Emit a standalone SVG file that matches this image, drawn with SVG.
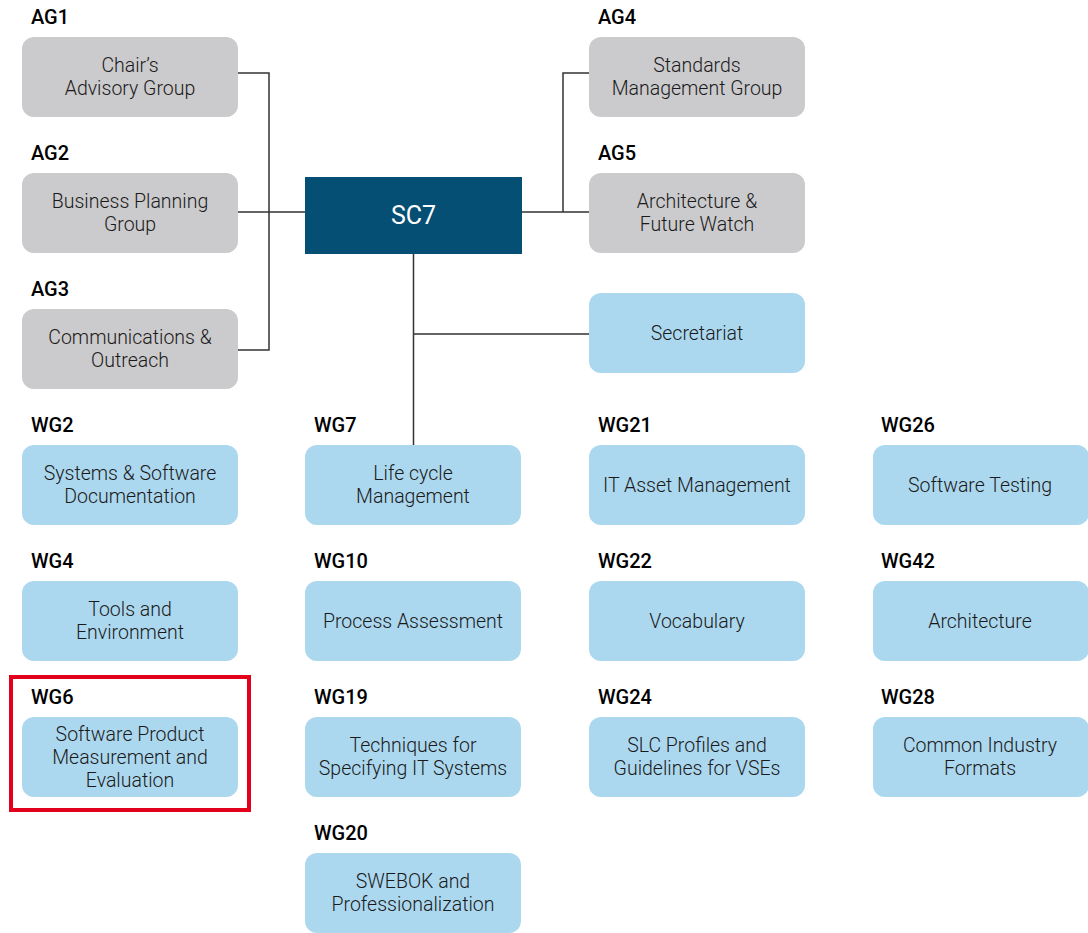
<svg xmlns="http://www.w3.org/2000/svg" width="1088" height="933" viewBox="0 0 1088 933">
<style>
.ag{fill:#cbcacc}
.wg{fill:#acd8ef}
.lbl{font-family:Roboto,"Liberation Sans",sans-serif;font-weight:500;font-size:20px;fill:#000}
.t{font-family:Roboto,"Liberation Sans",sans-serif;font-weight:300;font-size:19.5px;fill:#1a1a1a;text-anchor:middle}
.c{fill:none;stroke:#333;stroke-width:1.5}
</style>
<rect width="1088" height="933" fill="#fff"/>
<g id="connectors">
<path class="c" d="M238 73H269V350H238M238 212H305"/>
<path class="c" d="M522 212H589M563 212V73H589"/>
<path class="c" d="M413.5 254V445M413.5 334H589"/>
</g>
<g id="sc7"><rect x="305" y="177" width="217" height="77" fill="#054e74"/><text x="413.5" y="224" font-family="Roboto,'Liberation Sans',sans-serif" font-size="25" fill="#fff" text-anchor="middle">SC7</text></g>
<g id="ag1"><text class="lbl" x="31" y="24">AG1</text><rect class="ag" x="22" y="37" width="216" height="80" rx="12"/><text class="t" x="130" y="72">Chair’s</text><text class="t" x="130" y="95">Advisory Group</text></g>
<g id="ag2"><text class="lbl" x="31" y="160">AG2</text><rect class="ag" x="22" y="173" width="216" height="80" rx="12"/><text class="t" x="130" y="208">Business Planning</text><text class="t" x="130" y="231">Group</text></g>
<g id="ag3"><text class="lbl" x="31" y="296">AG3</text><rect class="ag" x="22" y="309" width="216" height="80" rx="12"/><text class="t" x="130" y="344">Communications &amp;</text><text class="t" x="130" y="367">Outreach</text></g>
<g id="ag4"><text class="lbl" x="598" y="24">AG4</text><rect class="ag" x="589" y="37" width="216" height="80" rx="12"/><text class="t" x="697" y="72">Standards</text><text class="t" x="697" y="95">Management Group</text></g>
<g id="ag5"><text class="lbl" x="598" y="160">AG5</text><rect class="ag" x="589" y="173" width="216" height="80" rx="12"/><text class="t" x="697" y="208">Architecture &amp;</text><text class="t" x="697" y="231">Future Watch</text></g>
<g id="secretariat"><rect class="wg" x="589" y="293" width="216" height="80" rx="12"/><text class="t" x="697" y="340">Secretariat</text></g>
<g id="wg2"><text class="lbl" x="31" y="432">WG2</text><rect class="wg" x="22" y="445" width="216" height="80" rx="12"/><text class="t" x="130" y="480">Systems &amp; Software</text><text class="t" x="130" y="503">Documentation</text></g>
<g id="wg4"><text class="lbl" x="31" y="568">WG4</text><rect class="wg" x="22" y="581" width="216" height="80" rx="12"/><text class="t" x="130" y="616">Tools and</text><text class="t" x="130" y="639">Environment</text></g>
<g id="wg6"><rect x="11" y="677" width="238" height="133" fill="none" stroke="#e3001b" stroke-width="4"/><text class="lbl" x="31" y="704">WG6</text><rect class="wg" x="22" y="717" width="216" height="80" rx="12"/><text class="t" x="130" y="741">Software Product</text><text class="t" x="130" y="764">Measurement and</text><text class="t" x="130" y="787">Evaluation</text></g>
<g id="wg7"><text class="lbl" x="314" y="432">WG7</text><rect class="wg" x="305" y="445" width="216" height="80" rx="12"/><text class="t" x="413" y="480">Life cycle</text><text class="t" x="413" y="503">Management</text></g>
<g id="wg10"><text class="lbl" x="314" y="568">WG10</text><rect class="wg" x="305" y="581" width="216" height="80" rx="12"/><text class="t" x="413" y="628">Process Assessment</text></g>
<g id="wg19"><text class="lbl" x="314" y="704">WG19</text><rect class="wg" x="305" y="717" width="216" height="80" rx="12"/><text class="t" x="413" y="752">Techniques for</text><text class="t" x="413" y="775">Specifying IT Systems</text></g>
<g id="wg20"><text class="lbl" x="314" y="840">WG20</text><rect class="wg" x="305" y="853" width="216" height="80" rx="12"/><text class="t" x="413" y="888">SWEBOK and</text><text class="t" x="413" y="911">Professionalization</text></g>
<g id="wg21"><text class="lbl" x="598" y="432">WG21</text><rect class="wg" x="589" y="445" width="216" height="80" rx="12"/><text class="t" x="697" y="492">IT Asset Management</text></g>
<g id="wg22"><text class="lbl" x="598" y="568">WG22</text><rect class="wg" x="589" y="581" width="216" height="80" rx="12"/><text class="t" x="697" y="628">Vocabulary</text></g>
<g id="wg24"><text class="lbl" x="598" y="704">WG24</text><rect class="wg" x="589" y="717" width="216" height="80" rx="12"/><text class="t" x="697" y="752">SLC Profiles and</text><text class="t" x="697" y="775">Guidelines for VSEs</text></g>
<g id="wg26"><text class="lbl" x="881" y="432">WG26</text><rect class="wg" x="873" y="445" width="216" height="80" rx="12"/><text class="t" x="980" y="492">Software Testing</text></g>
<g id="wg42"><text class="lbl" x="881" y="568">WG42</text><rect class="wg" x="873" y="581" width="216" height="80" rx="12"/><text class="t" x="980" y="628">Architecture</text></g>
<g id="wg28"><text class="lbl" x="881" y="704">WG28</text><rect class="wg" x="873" y="717" width="216" height="80" rx="12"/><text class="t" x="980" y="752">Common Industry</text><text class="t" x="980" y="775">Formats</text></g>
</svg>
